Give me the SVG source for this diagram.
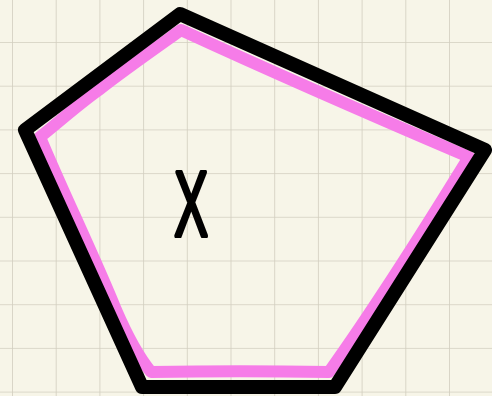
<svg xmlns="http://www.w3.org/2000/svg" width="492" height="396" viewBox="0 0 492 396">
  <defs>
    <pattern id="grid" x="12" y="42" width="43.7" height="43.7" patternUnits="userSpaceOnUse">
      <path d="M0 0H43.7M0 0V43.7" fill="none" stroke="#d2cebf" stroke-width="1.6"/>
    </pattern>
  </defs>
  <style>
    .hl { fill: none; stroke: #f67ce8; stroke-width: 12; stroke-linejoin: round; stroke-linecap: round; }
    .edge { fill: none; stroke: #000; stroke-width: 14; stroke-linejoin: round; stroke-linecap: round; }
    .label { font-family: "Liberation Sans", Arial, sans-serif; font-size: 92px; fill: #000; stroke: #000; stroke-width: 4; stroke-linejoin: round; }
  </style>
  <rect width="492" height="396" fill="#f7f5e8"/>
  <rect width="492" height="396" fill="url(#grid)"/>
  <g id="shape">
    <path class="hl" d="M181 30 C150 52 120 73 100 89 C80 103 60 121 40 137 C62 190 96 260 116 310 C129 340 141 360 151 372 C210 371 270 371 329 372 C369 316 418 240 469 157 C380 119 270 71 181 30 Z"/>
    <path class="edge" d="M180 14 L25 130 L142 387 L335 387 L485 150 Z"/>
  </g>
  <g id="label">
    <text class="label" transform="translate(191 236) scale(0.55 1)" text-anchor="middle">X</text>
  </g>
</svg>
